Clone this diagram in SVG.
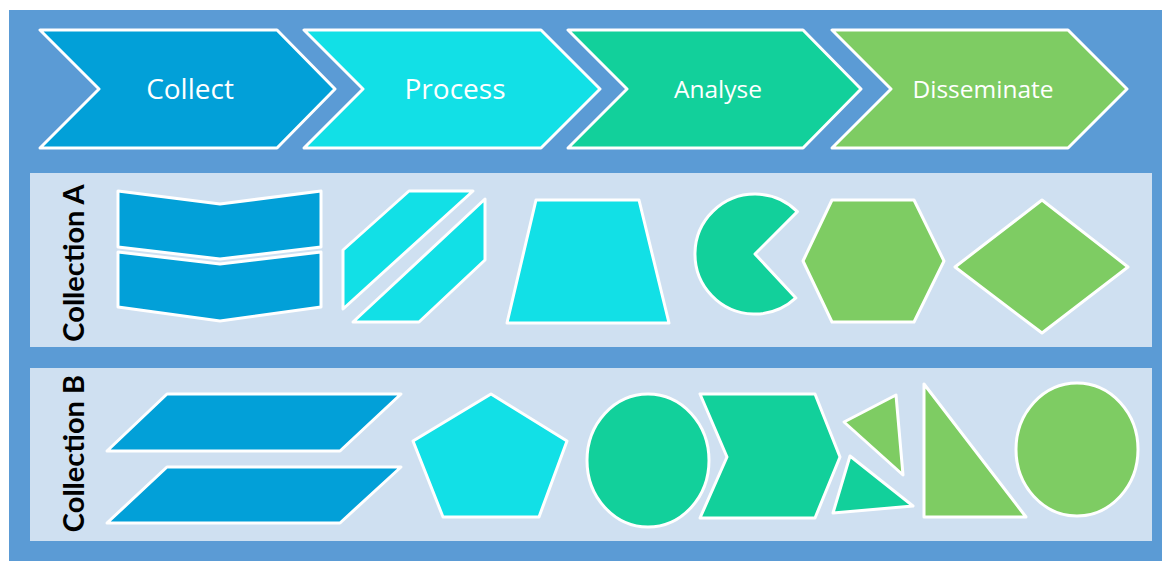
<svg xmlns="http://www.w3.org/2000/svg" width="1162" height="561" viewBox="0 0 1162 561">
<style>
.s{stroke:#FFFFFF;stroke-width:3;stroke-linejoin:round}
.c1{fill:#02A0D8}.c2{fill:#12E0E6}.c3{fill:#12D09B}.c4{fill:#7ECC63}
.lbl{font-family:"Open Sans","DejaVu Sans",sans-serif;fill:#FFFFFF;text-anchor:middle}
.col{font-family:Lato,"Liberation Sans",sans-serif;font-weight:bold;font-size:29px;fill:#000000;text-anchor:middle}
.panel{fill:#CFE0F1}
</style>
<rect x="0" y="0" width="1162" height="561" fill="#FFFFFF"/>
<rect x="9" y="10" width="1153" height="551" fill="#5B9BD5"/>
<rect class="panel" x="30" y="173" width="1122" height="174"/>
<rect class="panel" x="30" y="368" width="1122" height="173"/>

<g id="stage-collect">
<polygon class="s c1" points="40,30 277,30 335,89 277,148 40,148 99,89"/>
<text class="lbl" x="190" y="99" font-size="28">Collect</text>
</g>
<g id="stage-process">
<polygon class="s c2" points="304,30 541,30 600,89 541,148 304,148 363,89"/>
<text class="lbl" x="455" y="99" font-size="28">Process</text>
</g>
<g id="stage-analyse">
<polygon class="s c3" points="568,30 803,30 861,89 803,148 568,148 627,89"/>
<text class="lbl" x="718" y="97.5" font-size="24.5">Analyse</text>
</g>
<g id="stage-disseminate">
<polygon class="s c4" points="832,30 1068,30 1127,89 1068,148 832,148 891,89"/>
<text class="lbl" x="983" y="97.5" font-size="24.5">Disseminate</text>
</g>

<g id="collection-a">
<text class="col" transform="translate(84,263) rotate(-90)">Collection A</text>
<g id="a-banners">
<polygon class="s c1" points="118,191 220,204 321,191 321,247 220,259 118,247"/>
<polygon class="s c1" points="118,252 220,264 321,252 321,307 220,321 118,307"/>
</g>
<g id="a-slants">
<polygon class="s c2" points="409,191 473,191 343,309 343,250"/>
<polygon class="s c2" points="485,199 485,260 419,322 353,322"/>
</g>
<g id="a-trapezoid">
<polygon class="s c2" points="536,200 639,200 669,323 507,323"/>
</g>
<g id="a-pie">
<path class="s c3" d="M755,254 L797.4,211.6 A60,60 0 1 0 795.9,297.9 Z"/>
</g>
<g id="a-hexagon">
<polygon class="s c4" points="832,200 914,200 944,261 914,322 832,322 803,261"/>
</g>
<g id="a-diamond">
<polygon class="s c4" points="1042,200 1128,267 1042,333 955,267"/>
</g>
</g>

<g id="collection-b">
<text class="col" transform="translate(84,453.5) rotate(-90)">Collection B</text>
<g id="b-parallelograms">
<polygon class="s c1" points="167,394 401,394 340,451 107,451"/>
<polygon class="s c1" points="167,467 401,467 340,523 107,523"/>
</g>
<g id="b-pentagon">
<polygon class="s c2" points="491,394 567,441 539,517 443,517 413,441"/>
</g>
<g id="b-ellipse">
<ellipse class="s c3" cx="648" cy="460.5" rx="61" ry="66.5"/>
</g>
<g id="b-chevron">
<polygon class="s c3" points="700,394 815,394 840,457 815,518 700,518 727,457"/>
</g>
<g id="b-triangle-upper">
<polygon class="s c4" points="844,422 896,395 903,475"/>
</g>
<g id="b-triangle-lower">
<polygon class="s c3" points="850,456 913,506 833,513"/>
</g>
<g id="b-right-triangle">
<polygon class="s c4" points="924,384 924,517 1026,517"/>
</g>
<g id="b-ellipse-green">
<ellipse class="s c4" cx="1077" cy="449.5" rx="61" ry="66.5"/>
</g>
</g>
<g id="connectors"/>
</svg>
